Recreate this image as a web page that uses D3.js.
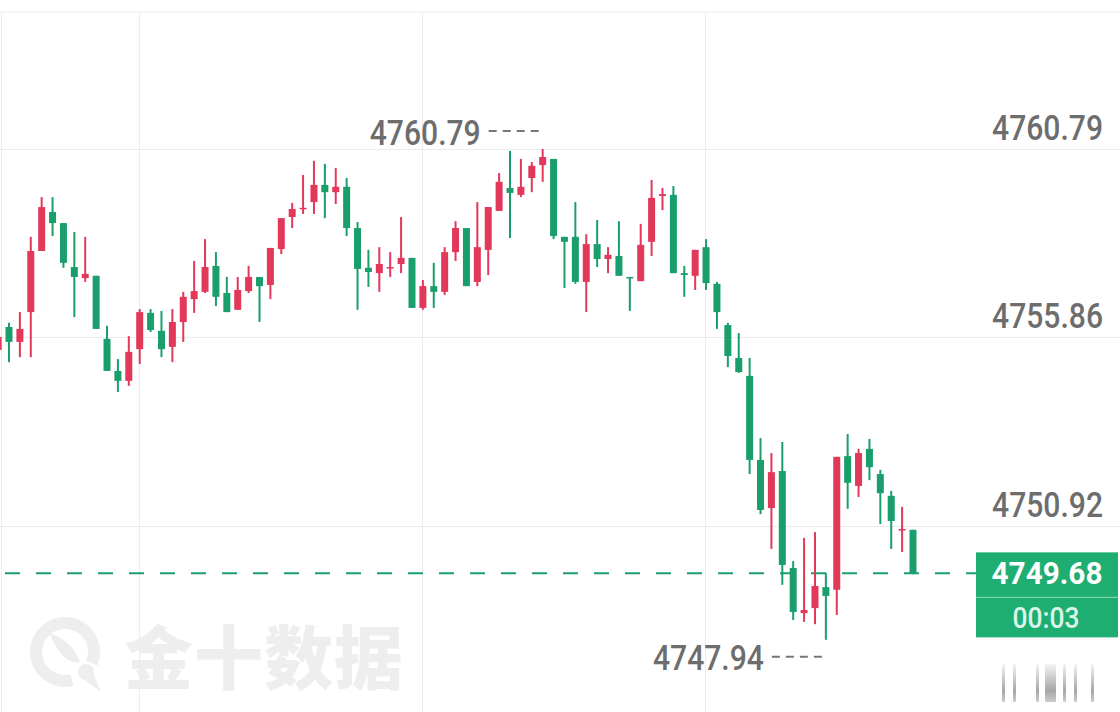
<!DOCTYPE html>
<meta charset="utf-8">
<head>
  <meta charset="utf-8">
  <script src="https://d3js.org/d3.v7.min.js"></script>
  <style>
    html, body { margin: 0; padding: 0; background: #fff; }
    svg { display: block; }
  </style>
</head>
<body>
  <svg width="1120" height="712"></svg>
  <script>
    // 1-minute candles (first one is cut off at the left edge)
    var opens = [4755.53, 4756.13, 4755.74, 4756.52, 4758.12, 4759.14, 4758.85, 4757.70, 4757.41, 4757.47,
      4755.82, 4754.98, 4754.72, 4755.55, 4756.50, 4756.03, 4755.61, 4756.26, 4756.86, 4757.05,
      4757.73, 4757.02, 4756.58, 4757.07, 4757.44, 4757.23, 4758.17, 4759.01, 4759.22, 4759.40,
      4759.85, 4759.66, 4759.80, 4758.72, 4757.68, 4757.54, 4757.68, 4757.78, 4757.94, 4756.63,
      4757.20, 4757.05, 4758.09, 4758.72, 4757.31, 4758.15, 4759.17, 4759.77, 4759.59, 4760.03,
      4760.37, 4760.53, 4758.49, 4758.49, 4757.31, 4758.30, 4757.91, 4757.99, 4757.44, 4757.33,
      4758.36, 4759.56, 4759.59, 4757.54, 4757.47, 4758.22, 4757.26, 4756.18, 4755.32, 4754.85,
      4752.65, 4751.39, 4752.36, 4749.82, 4748.64, 4748.77, 4749.32, 4749.25, 4752.75, 4751.97,
      4752.94, 4752.28, 4751.71, 4750.82, 4750.82];
    var highs = [4756.16, 4756.24, 4756.52, 4758.49, 4759.53, 4759.53, 4758.85, 4758.62, 4758.49, 4757.47,
      4756.16, 4755.29, 4755.89, 4756.60, 4756.60, 4756.55, 4756.60, 4757.05, 4757.86, 4758.43,
      4758.09, 4757.44, 4757.44, 4757.73, 4757.44, 4758.20, 4758.98, 4759.38, 4760.11, 4760.48,
      4760.40, 4760.29, 4760.03, 4758.88, 4758.15, 4758.22, 4758.09, 4759.01, 4757.94, 4757.36,
      4757.81, 4758.22, 4758.90, 4758.72, 4759.40, 4759.27, 4760.16, 4760.74, 4760.53, 4760.45,
      4760.79, 4760.53, 4758.49, 4759.40, 4758.56, 4758.93, 4758.22, 4758.90, 4757.44, 4758.83,
      4759.98, 4759.77, 4759.82, 4757.73, 4758.15, 4758.43, 4757.31, 4756.24, 4755.97, 4755.32,
      4753.22, 4752.83, 4753.12, 4750.00, 4750.61, 4750.76, 4749.69, 4752.73, 4753.33, 4752.94,
      4753.20, 4752.39, 4751.84, 4751.42, 4750.82];
    var lows = [4755.48, 4755.21, 4755.34, 4755.34, 4758.12, 4758.51, 4757.68, 4756.39, 4757.31, 4756.08,
      4754.98, 4754.43, 4754.59, 4755.16, 4756.00, 4755.34, 4755.21, 4755.74, 4756.50, 4757.02,
      4756.68, 4756.52, 4756.58, 4757.02, 4756.26, 4756.86, 4758.04, 4758.72, 4759.09, 4759.09,
      4758.98, 4759.35, 4758.51, 4756.58, 4757.18, 4757.05, 4757.44, 4757.54, 4756.63, 4756.58,
      4756.63, 4756.97, 4757.86, 4757.20, 4757.20, 4757.49, 4759.17, 4758.46, 4759.53, 4759.66,
      4759.93, 4758.43, 4757.15, 4757.26, 4756.52, 4757.70, 4757.54, 4757.47, 4756.55, 4757.33,
      4757.99, 4759.19, 4757.54, 4756.92, 4757.10, 4757.10, 4756.08, 4755.08, 4754.93, 4752.28,
      4751.23, 4750.32, 4749.38, 4748.46, 4748.41, 4748.35, 4747.94, 4748.59, 4751.37, 4751.68,
      4752.12, 4750.97, 4750.32, 4750.24, 4749.66];
    var closes = [4755.87, 4755.74, 4756.08, 4758.12, 4759.27, 4758.85, 4757.81, 4757.44, 4757.52, 4756.08,
      4754.98, 4754.72, 4755.48, 4756.52, 4756.05, 4755.55, 4756.26, 4756.92, 4757.07, 4757.70,
      4756.92, 4756.52, 4757.10, 4757.44, 4757.20, 4758.20, 4758.98, 4759.22, 4759.25, 4759.85,
      4759.66, 4759.80, 4758.72, 4757.65, 4757.57, 4757.78, 4757.70, 4757.94, 4756.63, 4757.20,
      4757.05, 4758.09, 4758.72, 4757.20, 4758.22, 4759.27, 4759.93, 4759.64, 4759.80, 4760.35,
      4760.58, 4758.51, 4758.36, 4757.31, 4758.30, 4757.91, 4758.02, 4757.47, 4757.41, 4758.28,
      4759.51, 4759.61, 4757.54, 4757.49, 4758.15, 4757.28, 4756.52, 4755.37, 4754.95, 4752.65,
      4751.34, 4752.33, 4749.90, 4748.67, 4748.72, 4749.35, 4749.09, 4752.73, 4752.05, 4752.83,
      4752.46, 4751.78, 4751.05, 4750.84, 4749.68];

    var yTicks = [4760.79, 4755.86, 4750.92];
    var gridCandles = [13, 39, 65];   // candles where the time grid falls
    var lastPrice = 4749.68;
    var countdown = "00:03";
    var brand = "金十数据";

    var UP = "#e2385a", DOWN = "#1a9f6c", BOX = "#1eae72";
    var GRID = "#ececec", TXT = "#6d6d6d";
    var numFont = "Roboto, 'DejaVu Sans', sans-serif";

    var data = opens.map(function(o, i) {
      return {i: i, o: o, h: highs[i], l: lows[i], c: closes[i]};
    });

    var svg = d3.select("svg");
    var W = +svg.attr("width"), H = +svg.attr("height");
    var plotTop = 12;

    var x = d3.scaleLinear().domain([0, data.length - 1]).range([-1.9, 913]);
    var y = d3.scaleLinear().domain([4750.92, 4760.79]).range([526, 149]);

    // squeeze a text horizontally so it is `w` wide and ends (or centres) at px
    function narrowText(g, px, py, str, w, anchor, size, weight, fill) {
      var t = g.append("text")
        .attr("text-anchor", anchor)
        .attr("font-family", numFont).attr("font-size", size).attr("font-weight", weight)
        .attr("fill", fill)
        .text(str);
      var k = w / t.node().getComputedTextLength();
      t.attr("transform", "translate(" + px + "," + py + ") scale(" + k + ",1)");
      return t;
    }

    // watermark
    var wm = svg.append("g").attr("fill", "#eeeeee");
    wm.append("path")
      .attr("transform", "translate(65,652)")
      .attr("d", d3.arc().innerRadius(23).outerRadius(35).startAngle(2.9).endAngle(8.25)());
    wm.append("path").attr("d", "M50,634 C62,636 74,646 80,662 C70,664 58,656 50,634 Z");
    wm.append("circle").attr("cx", 86).attr("cy", 672).attr("r", 8);
    wm.append("path").attr("d", "M82,678 L101,692 L92,670 Z");
    wm.append("text")
      .attr("x", 124).attr("y", 684)
      .attr("font-family", "'Noto Sans CJK SC', sans-serif")
      .attr("font-weight", 900).attr("font-size", 69)
      .attr("letter-spacing", 1)
      .text(brand);

    // faded marks in the bottom right corner
    var fade = svg.append("defs").append("linearGradient")
      .attr("id", "fade").attr("x1", 0).attr("y1", 0).attr("x2", 0).attr("y2", 1);
    fade.append("stop").attr("offset", "0%").attr("stop-color", "#8a8a8a").attr("stop-opacity", 0.1);
    fade.append("stop").attr("offset", "70%").attr("stop-color", "#8a8a8a").attr("stop-opacity", 0.75);
    fade.append("stop").attr("offset", "100%").attr("stop-color", "#8a8a8a").attr("stop-opacity", 0.45);
    [[1002, 3], [1013, 3], [1036, 3], [1045, 11], [1063, 3], [1074, 3], [1091, 3]].forEach(function(b) {
      svg.append("rect").attr("x", b[0]).attr("y", 664).attr("width", b[1]).attr("height", 38)
        .attr("rx", 1.5).attr("fill", "url(#fade)");
    });

    // grid
    svg.append("line").attr("x1", 0).attr("x2", W).attr("y1", plotTop).attr("y2", plotTop)
      .attr("stroke", GRID).attr("stroke-width", 1);
    svg.append("line").attr("x1", 1.5).attr("x2", 1.5).attr("y1", plotTop).attr("y2", H)
      .attr("stroke", GRID).attr("stroke-width", 1);
    svg.selectAll(".hgrid").data(yTicks).enter().append("line")
      .attr("class", "hgrid")
      .attr("x1", 0).attr("x2", W)
      .attr("y1", function(d) { return Math.round(y(d)) + 0.5; })
      .attr("y2", function(d) { return Math.round(y(d)) + 0.5; })
      .attr("stroke", GRID).attr("stroke-width", 1);
    svg.selectAll(".vgrid").data(gridCandles).enter().append("line")
      .attr("class", "vgrid")
      .attr("x1", function(d) { return Math.round(x(d)) - 0.5; })
      .attr("x2", function(d) { return Math.round(x(d)) - 0.5; })
      .attr("y1", plotTop).attr("y2", H)
      .attr("stroke", GRID).attr("stroke-width", 1);

    // right price labels
    yTicks.forEach(function(d) {
      narrowText(svg, 1103, y(d) - 9, d.toFixed(2), 111, "end", 36, 500, TXT);
    });

    // last price dashed line
    svg.append("line")
      .attr("x1", 5).attr("x2", 976)
      .attr("y1", y(lastPrice)).attr("y2", y(lastPrice))
      .attr("stroke", DOWN).attr("stroke-width", 2)
      .attr("stroke-dasharray", "15,16");

    // candles
    var colour = function(d) { return d.c > d.o ? UP : DOWN; };
    var candles = svg.append("g").selectAll("g").data(data).enter().append("g");
    candles.append("line")
      .attr("x1", function(d) { return x(d.i); })
      .attr("x2", function(d) { return x(d.i); })
      .attr("y1", function(d) { return y(d.h); })
      .attr("y2", function(d) { return y(d.l); })
      .attr("stroke", colour).attr("stroke-width", 2);
    candles.append("rect")
      .attr("x", function(d) { return x(d.i) - 3.5; })
      .attr("width", 7)
      .attr("y", function(d) { return y(Math.max(d.o, d.c)); })
      .attr("height", function(d) { return Math.max(1.5, Math.abs(y(d.o) - y(d.c))); })
      .attr("fill", colour);

    // high / low markers
    var hiI = d3.maxIndex(highs), loI = d3.minIndex(lows);
    function marker(i, val, dy, base) {
      var cx = x(i);
      svg.append("line")
        .attr("x1", cx - 54).attr("x2", cx - 4)
        .attr("y1", y(val) + dy).attr("y2", y(val) + dy)
        .attr("stroke", "#777").attr("stroke-width", 2)
        .attr("stroke-dasharray", "8,6");
      narrowText(svg, cx - 62, y(val) + base, val.toFixed(2), 111, "end", 36, 500, TXT);
    }
    marker(hiI, highs[hiI], -18, -4);
    marker(loI, lows[loI], 17, 30);

    // last price box
    var by = y(lastPrice);
    svg.append("rect").attr("x", 976).attr("y", by - 21).attr("width", 142).attr("height", 85)
      .attr("fill", BOX);
    svg.append("line").attr("x1", 976).attr("x2", 1118).attr("y1", by + 24).attr("y2", by + 24)
      .attr("stroke", "#8fdcb8").attr("stroke-width", 1);
    narrowText(svg, 1047, by + 11, lastPrice.toFixed(2), 111, "middle", 32, 700, "#fff");
    narrowText(svg, 1046, by + 55, countdown, 67, "middle", 29, 500, "#d9f5e8");
  </script>
</body>
</html>
